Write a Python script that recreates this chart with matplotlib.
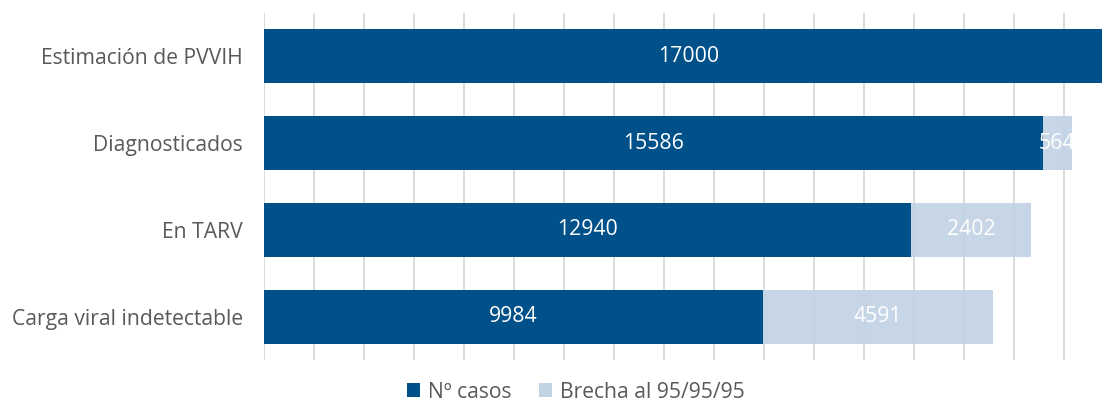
import matplotlib
matplotlib.use("Agg")
import matplotlib.pyplot as plt
from matplotlib.patches import Patch

categories = ["Estimación de PVVIH", "Diagnosticados", "En TARV", "Carga viral indetectable"]
casos = [17000, 15586, 12940, 9984]
brecha = [0, 564, 2402, 4591]
series_names = ["Nº casos", "Brecha al 95/95/95"]

dark = "#00508a"
light = "#c2d3e4"
txt = "#595959"

plt.rcParams['font.family'] = ['Open Sans', 'DejaVu Sans']

fig = plt.figure(figsize=(11.02, 4.03), dpi=100)
ax = fig.add_axes([264/1102, 43/403, 900/1102, 347/403])

y = list(range(len(categories)))
h = 0.62
b1 = ax.barh(y, casos, height=h, color=dark, zorder=2)
b2 = ax.barh(y, brecha, left=casos, height=h, color=light, alpha=0.92, zorder=3)

for bars, vals, lefts in ((b1, casos, [0]*4), (b2, brecha, casos)):
    for bar, v, l in zip(bars, vals, lefts):
        if v <= 0:
            continue
        t = ax.text(l + v/2, bar.get_y() + bar.get_height()/2, str(v),
                    ha='center', va='center', color='white', fontsize=15.3, zorder=5)
        t.set_clip_path(bar)

ax.set_xlim(0, 18000)
ax.set_ylim(3.5, -0.5)
ax.set_xticks(range(0, 18001, 1000))
ax.xaxis.grid(True, color='#d9d9d9', linewidth=1.3, zorder=0)
ax.set_axisbelow(True)
ax.tick_params(axis='x', length=0, labelbottom=False)
ax.tick_params(axis='y', length=0, pad=15)
ax.set_yticks(y)
ax.set_yticklabels(categories, fontsize=15.2, color=txt)
for s in ax.spines.values():
    s.set_visible(False)

handles = [Patch(facecolor=dark, label=series_names[0]), Patch(facecolor=light, label=series_names[1])]
leg = fig.legend(handles=handles, loc='center', bbox_to_anchor=(576/1102, 1 - 392/403), ncol=2,
                 frameon=False, fontsize=15.2, handlelength=0.6, handleheight=0.6,
                 handletextpad=0.4, columnspacing=1.3, labelcolor=txt)

fig.savefig("out.png", dpi=100)
